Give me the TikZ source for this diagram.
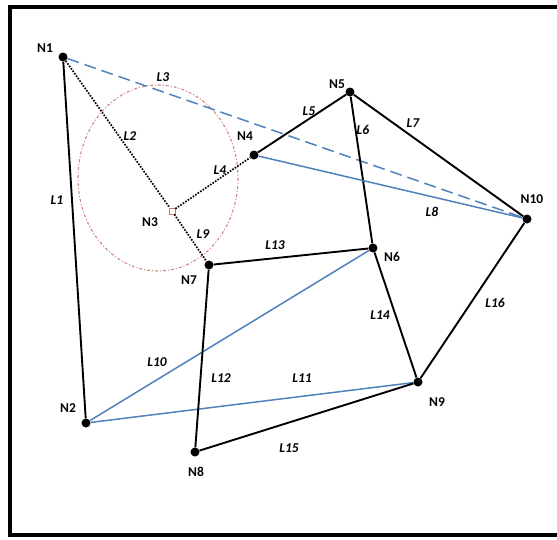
\documentclass[tikz,border=0pt]{standalone}
\usepackage{fontspec}
\setmainfont{Carlito}
\definecolor{linkblue}{HTML}{4F81BD}
\definecolor{rangered}{HTML}{C0504D}

\begin{document}
\begin{tikzpicture}[x=1pt, y=-1pt, font=\fontsize{13.5}{15}\selectfont\bfseries,
  router/.style={circle, fill=black, inner sep=0pt, minimum size=9pt},
  hub/.style={draw=rangered!80, thick, rectangle, inner sep=0pt, minimum size=6pt, fill=white},
  nodetag/.style={inner sep=1pt},
  linktag/.style={inner sep=1pt, font=\fontsize{13.5}{15}\selectfont\bfseries\itshape},
  wire/.style={line width=1.9pt},
  bluewire/.style={draw=linkblue, line width=1.5pt},
  probe/.style={line width=1.7pt, dash pattern=on 1.6pt off 1.4pt}]

  \useasboundingbox (0,0) rectangle (557,539);
  \draw[line width=4pt] (10,6.5) rectangle (562,534.5);

  % ---- coverage range round N3 ----
  \draw[rangered!70, line width=1.1pt, dash pattern=on 3pt off 2pt on 1pt off 2pt]
    (158,178) ellipse [x radius=80, y radius=93];

  % ---- nodes ----
  \node[router] (n1) at (63,57) {};
  \node[router] (n2) at (86,423) {};
  \node[hub] (n3) at (172,211) {};
  \node[router] (n4) at (254,155) {};
  \node[router] (n5) at (350,92) {};
  \node[router] (n6) at (373,248) {};
  \node[router] (n7) at (209,265) {};
  \node[router] (n8) at (195,452) {};
  \node[router] (n9) at (418,382) {};
  \node[router] (n10) at (527,219) {};

  \node[nodetag] (t1) at (45,48) {N1};
  \node[nodetag] (t2) at (68,408) {N2};
  \node[nodetag] (t3) at (150,222) {N3};
  \node[nodetag] (t4) at (245,136) {N4};
  \node[nodetag] (t5) at (337,84) {N5};
  \node[nodetag] (t6) at (392,257) {N6};
  \node[nodetag] (t7) at (189,280) {N7};
  \node[nodetag] (t8) at (196,472) {N8};
  \node[nodetag] (t9) at (437,402) {N9};
  \node[nodetag] (t10) at (532,199) {N10};

  % ---- links ----
  \draw[wire] (n1) -- (n2);
  \draw[probe] (n1) -- (n3);
  \draw[bluewire, dash pattern=on 12pt off 6pt] (n1) -- (n10);
  \draw[probe] (n3) -- (n4);
  \draw[wire] (n4) -- (n5);
  \draw[wire] (n5) -- (n6);
  \draw[wire] (n5) -- (n10);
  \draw[bluewire] (n4) -- (n10);
  \draw[probe] (n3) -- (n7);
  \draw[bluewire] (n2) -- (n6);
  \draw[bluewire] (n2) -- (n9);
  \draw[wire] (n7) -- (n8);
  \draw[wire] (n7) -- (n6);
  \draw[wire] (n6) -- (n9);
  \draw[wire] (n8) -- (n9);
  \draw[wire] (n9) -- (n10);

  \node[linktag] (l1) at (57,200) {L1};
  \node[linktag] (l2) at (130,136) {L2};
  \node[linktag] (l3) at (163,77) {L3};
  \node[linktag] (l4) at (220,170) {L4};
  \node[linktag] (l5) at (309,111) {L5};
  \node[linktag] (l6) at (363,130) {L6};
  \node[linktag] (l7) at (413,123) {L7};
  \node[linktag] (l8) at (432,212) {L8};
  \node[linktag] (l9) at (203,234) {L9};
  \node[linktag] (l10) at (157,362) {L10};
  \node[linktag] (l11) at (302,378) {L11};
  \node[linktag] (l12) at (221,378) {L12};
  \node[linktag] (l13) at (275,245) {L13};
  \node[linktag] (l14) at (380,315) {L14};
  \node[linktag] (l15) at (289,448) {L15};
  \node[linktag] (l16) at (495,303) {L16};

\end{tikzpicture}
\end{document}
